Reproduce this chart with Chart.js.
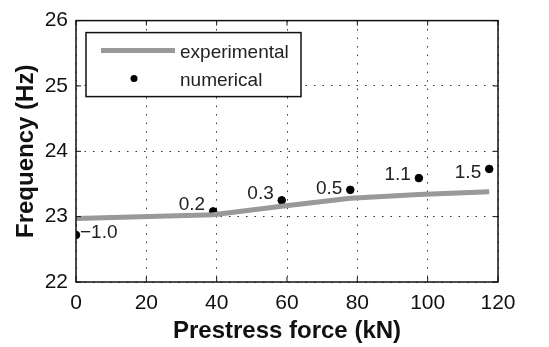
<!DOCTYPE html>
<html>
<head>
<meta charset="utf-8">
<script src="https://cdn.jsdelivr.net/npm/chart.js@4.4.1/dist/chart.umd.min.js"></script>
<style>
  html, body { margin: 0; padding: 0; background: #fff; }
  #wrap { width: 549px; height: 347px; }
</style>
</head>
<body>
<div id="wrap"><canvas id="freqChart" width="549" height="347"></canvas></div>
<script>
// values
var forces = [0, 39, 58.5, 78, 97.5, 117.5];
var experimental = [22.97, 23.03, 23.16, 23.28, 23.34, 23.38];
var numerical = [22.72, 23.08, 23.25, 23.41, 23.59, 23.73];
var pointLabels = ['\u22121.0', '0.2', '0.3', '0.5', '1.1', '1.5'];
var xTicks = [0, 20, 40, 60, 80, 100, 120];
var yTicks = [22, 23, 24, 25, 26];

var FONT = 'Liberation Sans, Arial, sans-serif';

function toXY(xs, ys) {
    return xs.map(function(x, i) { return { x: x, y: ys[i] }; });
}

// frame + inward tick marks on all four sides
var framePlugin = {
    id: 'frame',
    afterDraw: function(chart) {
        var ctx = chart.ctx, a = chart.chartArea;
        var sx = chart.scales.x, sy = chart.scales.y;
        ctx.save();
        ctx.strokeStyle = '#111';
        ctx.lineWidth = 1.5;
        ctx.strokeRect(a.left, a.top, a.right - a.left, a.bottom - a.top);
        ctx.lineWidth = 1;
        ctx.beginPath();
        xTicks.forEach(function(v) {
            var px = sx.getPixelForValue(v);
            ctx.moveTo(px, a.bottom); ctx.lineTo(px, a.bottom - 5);
            ctx.moveTo(px, a.top); ctx.lineTo(px, a.top + 5);
        });
        yTicks.forEach(function(v) {
            var py = sy.getPixelForValue(v);
            ctx.moveTo(a.left, py); ctx.lineTo(a.left + 5, py);
            ctx.moveTo(a.right, py); ctx.lineTo(a.right - 5, py);
        });
        ctx.stroke();
        ctx.restore();
    }
};

// numbers next to the numerical points
var labelPlugin = {
    id: 'pointText',
    afterDatasetsDraw: function(chart) {
        var ctx = chart.ctx;
        var meta = chart.getDatasetMeta(1);
        var dy = [-2, -7, -7, -1, -3, 4];
        ctx.save();
        ctx.font = '19px ' + FONT;
        ctx.fillStyle = '#222';
        ctx.textBaseline = 'middle';
        meta.data.forEach(function(pt, i) {
            if (i === 0) {
                ctx.textAlign = 'left';
                ctx.fillText(pointLabels[i], pt.x + 4, pt.y + dy[i]);
            } else {
                ctx.textAlign = 'right';
                ctx.fillText(pointLabels[i], pt.x - 8, pt.y + dy[i]);
            }
        });
        ctx.restore();
    }
};

// boxed legend in the upper left corner
var legendPlugin = {
    id: 'boxLegend',
    afterDraw: function(chart) {
        var ctx = chart.ctx, a = chart.chartArea;
        var x0 = a.left + 10, y0 = a.top + 12, w = 215, h = 64;
        var ds = chart.data.datasets;
        ctx.save();
        ctx.fillStyle = '#fff';
        ctx.fillRect(x0, y0, w, h);
        ctx.strokeStyle = '#111';
        ctx.lineWidth = 1.5;
        ctx.strokeRect(x0, y0, w, h);
        ctx.strokeStyle = ds[0].borderColor;
        ctx.lineWidth = ds[0].borderWidth;
        ctx.beginPath();
        ctx.moveTo(x0 + 15, y0 + 18);
        ctx.lineTo(x0 + 89, y0 + 18);
        ctx.stroke();
        ctx.fillStyle = '#000';
        ctx.beginPath();
        ctx.arc(x0 + 48, y0 + 46, 3.5, 0, Math.PI * 2);
        ctx.fill();
        ctx.fillStyle = '#222';
        ctx.font = '19px ' + FONT;
        ctx.textBaseline = 'middle';
        ctx.textAlign = 'left';
        ctx.fillText(ds[0].label, x0 + 94, y0 + 20);
        ctx.fillText(ds[1].label, x0 + 94, y0 + 48);
        ctx.restore();
    }
};

var ctx = document.getElementById('freqChart').getContext('2d');
var freqChart = new Chart(ctx, {
    type: 'scatter',
    data: {
        datasets: [{
            label: 'experimental',
            type: 'line',
            data: toXY(forces, experimental),
            borderColor: '#999999',
            borderWidth: 5,
            pointRadius: 0,
            fill: false,
            tension: 0
        }, {
            label: 'numerical',
            data: toXY(forces, numerical),
            backgroundColor: '#000',
            borderColor: '#000',
            pointRadius: 3.8,
            showLine: false
        }]
    },
    options: {
        responsive: false,
        animation: false,
        layout: { padding: { top: 16, right: 51, left: 0, bottom: 0 } },
        plugins: {
            legend: { display: false },
            tooltip: { enabled: false }
        },
        scales: {
            x: {
                type: 'linear',
                min: 0, max: 120,
                afterFit: function(s) { s.height = 65; },
                afterBuildTicks: function(s) { s.ticks = xTicks.map(function(v) { return { value: v }; }); },
                ticks: { color: '#111', padding: 9, font: { family: FONT, size: 21 } },
                grid: { color: '#333', lineWidth: 1, drawTicks: false },
                border: { display: false, dash: [1.5, 7] },
                title: {
                    display: true,
                    text: 'Prestress force (kN)',
                    color: '#111',
                    padding: { top: 0, bottom: 1 },
                    font: { family: FONT, size: 24, weight: 'bold' }
                }
            },
            y: {
                min: 22, max: 26,
                afterFit: function(s) { s.width = 76; },
                afterBuildTicks: function(s) { s.ticks = yTicks.map(function(v) { return { value: v }; }); },
                ticks: { color: '#111', padding: 8, font: { family: FONT, size: 21 } },
                grid: { color: '#333', lineWidth: 1, drawTicks: false },
                border: { display: false, dash: [1.5, 7] },
                title: {
                    display: true,
                    text: 'Frequency (Hz)',
                    color: '#111',
                    padding: { top: 12, bottom: 0 },
                    font: { family: FONT, size: 24, weight: 'bold' }
                }
            }
        }
    },
    plugins: [framePlugin, labelPlugin, legendPlugin]
});
</script>
</body>
</html>
